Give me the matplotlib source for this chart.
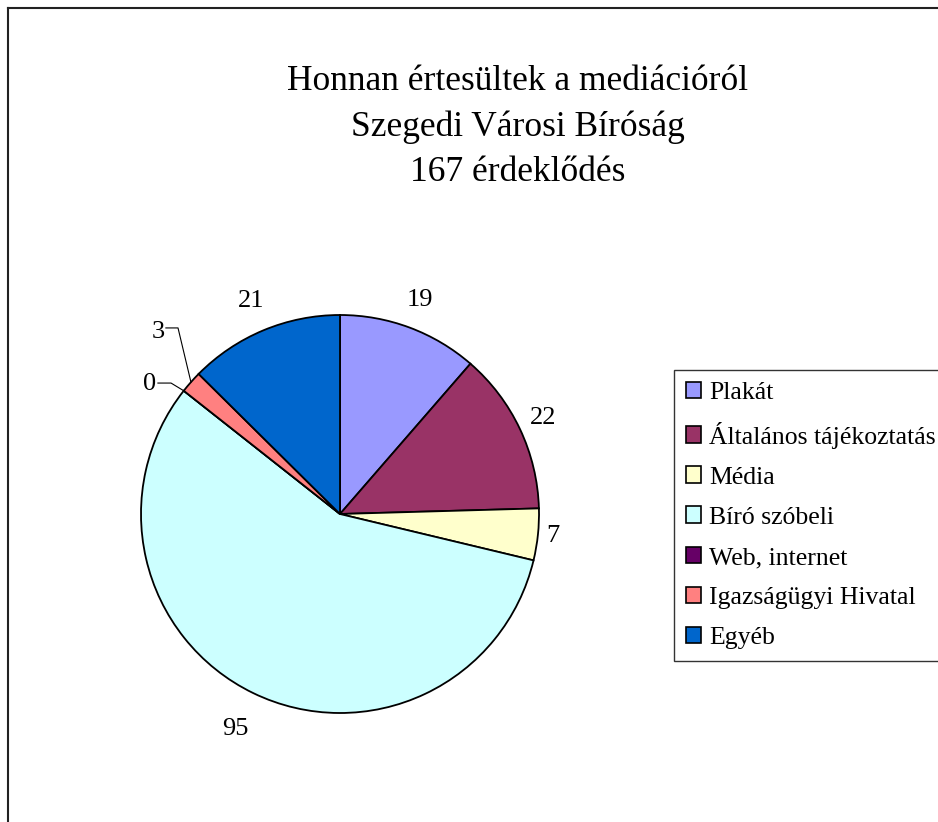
import numpy as np
import matplotlib.pyplot as plt
from matplotlib.lines import Line2D

plt.rcParams['font.family'] = ['Liberation Serif', 'DejaVu Serif']

categories = ['Plakát', 'Általános tájékoztatás', 'Média', 'Bíró szóbeli',
              'Web, internet', 'Igazságügyi Hivatal', 'Egyéb']
values = [19, 22, 7, 95, 0, 3, 21]
colors = ['#9999FF', '#993366', '#FFFFCC', '#CCFFFF', '#660066', '#FF8080', '#0066CC']
title = 'Honnan értesültek a mediációról\nSzegedi Városi Bíróság\n167 érdeklődés'

W, H = 938, 822
fig = plt.figure(figsize=(W / 100, H / 100), dpi=100)

# outer frame (left and top visible, rest runs off the image)
fig.add_artist(Line2D([8 / W, 8 / W], [0, 1 - 8 / H], color='#222222', lw=1.5))
fig.add_artist(Line2D([8 / W, 1], [1 - 8 / H, 1 - 8 / H], color='#222222', lw=1.5))

fig.text(518 / W, 1 - 127 / H, title, ha='center', va='center',
         fontsize=25.5, linespacing=1.5)

# pie axes: centre (340, 514) px, radius 199 px
R = 199
cx, cy = 340, 514
ax = fig.add_axes([(cx - 1.5 * R) / W, (H - cy - 1.5 * R) / H, 3 * R / W, 3 * R / H])
wedges, _ = ax.pie(values, colors=colors, startangle=90, counterclock=False,
                   wedgeprops=dict(edgecolor='black', linewidth=1.3))
ax.set_xlim(-1.5, 1.5)
ax.set_ylim(-1.5, 1.5)
ax.axis('off')

label_dist = [1.15, 1.13, 1.075, 1.2, None, None, 1.16]
for w, v, d in zip(wedges, values, label_dist):
    if d is None:
        continue
    mid = np.deg2rad((w.theta1 + w.theta2) / 2)
    ax.text(d * np.cos(mid), d * np.sin(mid), str(v), ha='center', va='center',
            fontsize=19)

# small slices with leader lines
small = {5: (-0.915, 0.915, -0.814, 0.935), 4: (-0.955, 0.653, -0.849, 0.658)}
for i, (tx, ty, ex, ey) in small.items():
    w = wedges[i]
    mid = np.deg2rad((w.theta1 + w.theta2) / 2)
    px, py = np.cos(mid), np.sin(mid)
    ax.text(tx, ty, str(values[i]), ha='center', va='center', fontsize=19)
    ax.plot([tx + 0.04, ex, px], [ey, ey, py], color='black', lw=0.8)

leg = fig.legend(wedges, categories, loc='upper left',
                 bbox_to_anchor=(674 / W, 1 - 370 / H), frameon=True, fancybox=False,
                 fontsize=18.5, handlelength=0.62, handleheight=0.62, handletextpad=0.3,
                 labelspacing=0.69, borderpad=0.45, borderaxespad=0)
leg.get_frame().set_edgecolor('black')
leg.get_frame().set_linewidth(1)
for h in leg.legend_handles:
    h.set_linewidth(1.2)

fig.savefig('out.png', dpi=100)
